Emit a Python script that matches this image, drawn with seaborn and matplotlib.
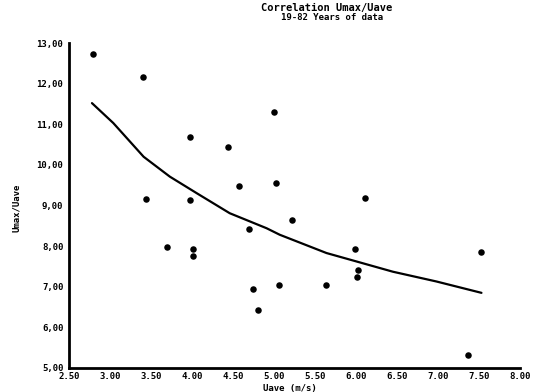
import matplotlib
matplotlib.use("Agg")
import matplotlib.pyplot as plt
import seaborn as sns
import pandas as pd

# Scatter data (Uave, Umax/Uave)
uave = [2.79, 3.40, 3.44, 3.70, 3.98, 3.98, 4.01, 4.01, 4.44, 4.57, 4.70, 4.74,
        4.81, 5.00, 5.02, 5.06, 5.22, 5.63, 5.99, 6.02, 6.01, 6.11, 7.36, 7.52]
ratio = [12.73, 12.16, 9.16, 7.98, 10.68, 9.14, 7.94, 7.76, 10.45, 9.48, 8.41, 6.95,
         6.44, 11.29, 9.55, 7.04, 8.65, 7.04, 7.94, 7.41, 7.23, 9.19, 5.33, 7.86]

# Fitted curve
fit_x = [2.78, 3.04, 3.41, 3.73, 4.06, 4.46, 4.91, 5.07, 5.64, 6.01, 6.45, 6.98, 7.53]
fit_y = [11.52, 11.03, 10.20, 9.71, 9.30, 8.81, 8.44, 8.28, 7.83, 7.62, 7.37, 7.13, 6.85]

x_ticks = [2.5, 3.0, 3.5, 4.0, 4.5, 5.0, 5.5, 6.0, 6.5, 7.0, 7.5, 8.0]
x_labels = ["2.50", "3.00", "3.50", "4.00", "4.50", "5.00", "5.50", "6.00",
            "6.50", "7.00", "7.50", "8.00"]
y_ticks = [5, 6, 7, 8, 9, 10, 11, 12, 13]
y_labels = ["5,00", "6,00", "7,00", "8,00", "9,00", "10,00", "11,00", "12,00", "13,00"]

sns.set_theme(style="white")
plt.rcParams['font.family'] = ['DejaVu Sans Mono', 'DejaVu Sans']
plt.rcParams['font.weight'] = 'bold'
plt.rcParams['text.color'] = 'black'
plt.rcParams['xtick.color'] = 'black'
plt.rcParams['ytick.color'] = 'black'

pts = pd.DataFrame({"x": uave, "y": ratio})
fit = pd.DataFrame({"x": fit_x, "y": fit_y})

W, H = 543, 392
fig = plt.figure(figsize=(W / 100, H / 100), dpi=100)
ax = fig.add_axes([69 / W, 1 - 368 / H, (520 - 69) / W, (368 - 43) / H])

sns.scatterplot(data=pts, x="x", y="y", ax=ax, color="black", s=22,
                edgecolor="black", linewidth=0, zorder=3)
sns.lineplot(data=fit, x="x", y="y", ax=ax, color="black", linewidth=1.6,
             sort=False, zorder=2, solid_joinstyle='round')

ax.set_xlim(2.5, 8.0)
ax.set_ylim(5, 13)
ax.set_xticks(x_ticks)
ax.set_xticklabels(x_labels, fontsize=6.5, fontweight='bold', color='black')
ax.set_yticks(y_ticks)
ax.set_yticklabels(y_labels, fontsize=6.5, fontweight='bold', color='black')
ax.tick_params(axis='both', direction='inout', length=4, width=1.2, color='black',
               pad=2)
ax.tick_params(axis='x', pad=1)
for s in ["top", "right"]:
    ax.spines[s].set_visible(False)
for s in ["left", "bottom"]:
    ax.spines[s].set_color("black")
    ax.spines[s].set_linewidth(2.0)

ax.set_xlabel("")
ax.set_ylabel("")
fig.text(290 / W, 1 - 388 / H, "Uave (m/s)", ha="center", va="center",
         fontsize=6.5, fontweight='bold', color='black')
fig.text(16 / W, 1 - 208 / H, "Umax/Uave", ha="center", va="center",
         rotation=90, fontsize=6.5, fontweight='bold', color='black')
fig.text(327 / W, 1 - 8 / H, "Correlation Umax/Uave", ha="center", va="center",
         fontsize=7.5, fontweight='bold', color='black')
fig.text(332 / W, 1 - 18 / H, "19-82 Years of data", ha="center", va="center",
         fontsize=6.5, fontweight='bold', color='black')

fig.savefig("out.png", dpi=100)
